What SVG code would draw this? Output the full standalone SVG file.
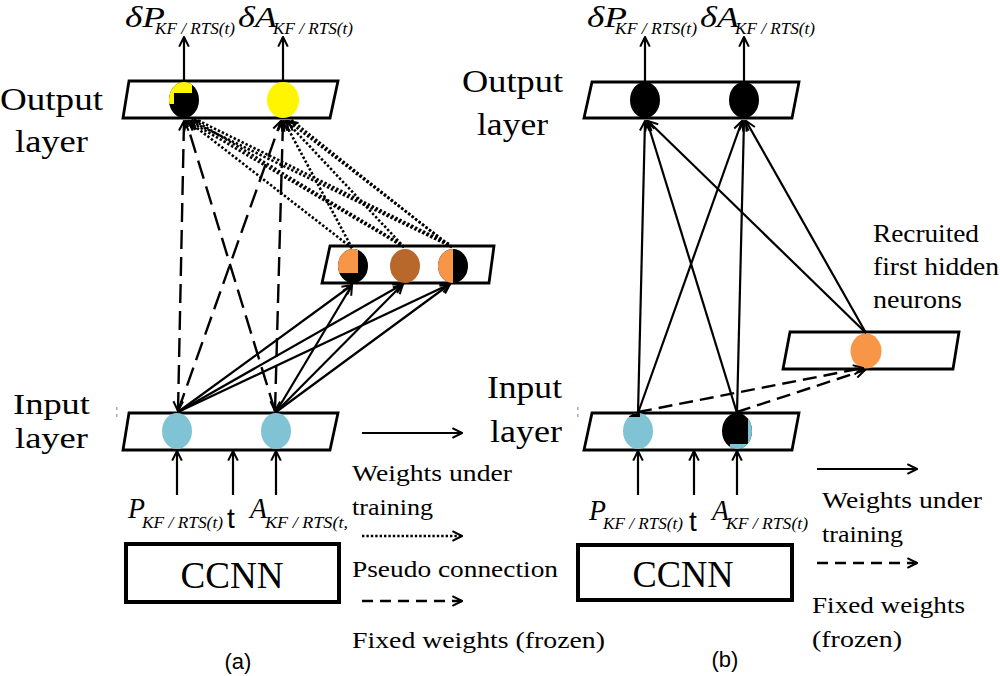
<svg xmlns="http://www.w3.org/2000/svg" width="1000" height="676" viewBox="0 0 1000 676" font-family="Liberation Serif, Times New Roman, serif">
<style>
.lay{fill:#fff;stroke:#000;stroke-width:2.8}
.box{fill:#fff;stroke:#000;stroke-width:4}
.serif{fill:#000}
.it{font-style:italic}
.sans{fill:#000}
.lbl{font-size:31px}
.leg{font-size:23px}
.main{font-size:29px}
.sub{font-size:17px}
.ln{stroke:#000;stroke-width:2.2;fill:none}
.dash{stroke-dasharray:19 8;stroke-width:2.4}
.dashb{stroke-dasharray:14 7;stroke-width:2.4}
.dashl{stroke-dasharray:11 7;stroke-width:2.6}
.dot{stroke-dasharray:2.4 2;stroke-width:2.6}
.blue{fill:#7FC3D5}
.yel{fill:#FFF500}
.org{fill:#F79646}
.brn{fill:#B8682A}
.blk{fill:#000}
</style>
<defs>
<marker id="ah" viewBox="0 0 10 10" refX="9" refY="5" markerWidth="12" markerHeight="12" markerUnits="userSpaceOnUse" orient="auto-start-reverse">
<path d="M1,1 L9,5 L1,9" fill="none" stroke="#000" stroke-width="1.7"/>
</marker>
<clipPath id="c_ao1"><ellipse cx="184" cy="100" rx="15" ry="18"/></clipPath>
<clipPath id="c_ah1"><ellipse cx="353" cy="266" rx="15" ry="17"/></clipPath>
<clipPath id="c_ah3"><ellipse cx="453" cy="266" rx="15" ry="17"/></clipPath>
<clipPath id="c_bi1"><ellipse cx="638" cy="431" rx="15" ry="18"/></clipPath>
<clipPath id="c_bi2"><ellipse cx="737" cy="431" rx="15" ry="18"/></clipPath>
</defs>
<rect width="1000" height="676" fill="#fff"/>

<!-- ===== Panel (a) ===== -->
<g id="a-output-layer">
<polygon class="lay" points="129,81 338,81 330,118 123,118"/>
<g clip-path="url(#c_ao1)">
<rect class="blk" x="168" y="81" width="32" height="38"/>
<path class="yel" d="M168,81 H192 V93 H174 V104 H168 Z"/>
</g>
<ellipse class="yel" cx="283" cy="100" rx="16" ry="18"/>
</g>
<g id="a-hidden-layer">
<polygon class="lay" points="330,246 494,246 489,283 322,283"/>
<g clip-path="url(#c_ah1)">
<rect class="blk" x="337" y="248" width="32" height="36"/>
<rect class="org" x="337" y="248" width="21" height="25"/>
</g>
<ellipse class="brn" cx="405" cy="266" rx="15" ry="17"/>
<g clip-path="url(#c_ah3)">
<rect class="blk" x="437" y="248" width="32" height="36"/>
<rect class="org" x="437" y="248" width="16" height="36"/>
</g>
</g>
<g id="a-input-layer">
<polygon class="lay" points="129,413 338,413 330,450 123,450"/>
<ellipse class="blue" cx="177" cy="431" rx="15" ry="18"/>
<ellipse class="blue" cx="276" cy="431" rx="15" ry="18"/>
</g>
<g id="a-ccnn">
<rect class="box" x="126" y="544" width="213" height="58"/>
<text class="serif" x="232" y="588" font-size="38" text-anchor="middle" textLength="103" lengthAdjust="spacingAndGlyphs">CCNN</text>
</g>

<g id="a-connectors">
<line class="ln" x1="184" y1="81" x2="184" y2="37" marker-end="url(#ah)"/>
<line class="ln" x1="283" y1="81" x2="283" y2="37" marker-end="url(#ah)"/>
<line class="ln" x1="177" y1="495" x2="177" y2="451" marker-end="url(#ah)"/>
<line class="ln" x1="233" y1="495" x2="233" y2="451" marker-end="url(#ah)"/>
<line class="ln" x1="276" y1="495" x2="276" y2="451" marker-end="url(#ah)"/>
<!-- fixed weights -->
<line class="ln dash" x1="178" y1="411" x2="184" y2="121" marker-start="url(#ah)" marker-end="url(#ah)"/>
<line class="ln dash" x1="178" y1="411" x2="281" y2="121" marker-end="url(#ah)"/>
<line class="ln dash" x1="275" y1="411" x2="186" y2="121" marker-end="url(#ah)"/>
<line class="ln dash" x1="275" y1="411" x2="283" y2="121" marker-start="url(#ah)" marker-end="url(#ah)"/>
<!-- pseudo connections -->
<line class="ln dot" x1="352" y1="248" x2="188" y2="121" marker-end="url(#ah)"/>
<line class="ln dot" x1="404" y1="247" x2="189" y2="121" marker-end="url(#ah)"/>
<line class="ln dot" x1="401" y1="244" x2="192" y2="119"/>
<line class="ln dot" x1="452" y1="247" x2="190" y2="121" marker-end="url(#ah)"/>
<line class="ln dot" x1="449" y1="244" x2="193" y2="118"/>
<line class="ln dot" x1="352" y1="248" x2="284" y2="121" marker-end="url(#ah)"/>
<line class="ln dot" x1="404" y1="247" x2="286" y2="121" marker-end="url(#ah)"/>
<line class="ln dot" x1="452" y1="247" x2="288" y2="121" marker-end="url(#ah)"/>
<line class="ln dot" x1="448" y1="245" x2="290" y2="119"/>
<!-- weights under training -->
<line class="ln" x1="178" y1="412" x2="352" y2="285" marker-end="url(#ah)"/>
<line class="ln" x1="178" y1="412" x2="403" y2="284" marker-end="url(#ah)"/>
<line class="ln" x1="178" y1="412" x2="450" y2="284" marker-end="url(#ah)"/>
<line class="ln" x1="276" y1="412" x2="352" y2="285" marker-end="url(#ah)"/>
<line class="ln" x1="276" y1="412" x2="403" y2="284" marker-end="url(#ah)"/>
<line class="ln" x1="276" y1="412" x2="450" y2="284" marker-end="url(#ah)"/>
</g>

<g id="a-labels">
<text class="serif lbl" x="0" y="110" textLength="103" lengthAdjust="spacingAndGlyphs">Output</text>
<text class="serif lbl" x="15" y="152" textLength="73" lengthAdjust="spacingAndGlyphs">layer</text>
<text class="serif" font-size="29" x="13" y="414" textLength="77" lengthAdjust="spacingAndGlyphs">Input</text>
<text class="serif" font-size="29" x="15" y="448" textLength="73" lengthAdjust="spacingAndGlyphs">layer</text>
<text class="serif it main" x="125" y="27" textLength="40" lengthAdjust="spacingAndGlyphs">δP</text>
<text class="serif it sub" x="155" y="34" textLength="80" lengthAdjust="spacingAndGlyphs">KF / RTS(t)</text>
<text class="serif it main" x="238" y="27" textLength="39" lengthAdjust="spacingAndGlyphs">δA</text>
<text class="serif it sub" x="273" y="34" textLength="80" lengthAdjust="spacingAndGlyphs">KF / RTS(t)</text>
<text class="serif it" font-size="29" x="128" y="518" textLength="17" lengthAdjust="spacingAndGlyphs">P</text>
<text class="serif it sub" x="142" y="528" textLength="81" lengthAdjust="spacingAndGlyphs">KF / RTS(t)</text>
<text class="sans" font-family="Liberation Sans, Arial, sans-serif" font-size="28" x="227" y="528">t</text>
<text class="serif it" font-size="29" x="250" y="518" textLength="17" lengthAdjust="spacingAndGlyphs">A</text>
<text class="serif it sub" x="265" y="528" textLength="83" lengthAdjust="spacingAndGlyphs">KF / RTS(t,</text>
<text class="sans" font-family="Liberation Sans, Arial, sans-serif" font-size="22" x="238" y="669" text-anchor="middle">(a)</text>
</g>
<g id="a-legend">
<line class="ln" x1="362" y1="433" x2="462" y2="433" marker-end="url(#ah)"/>
<text class="serif leg" x="352" y="481" textLength="160" lengthAdjust="spacingAndGlyphs">Weights under</text>
<text class="serif leg" x="352" y="515" textLength="81" lengthAdjust="spacingAndGlyphs">training</text>
<line class="ln dot" x1="362" y1="536" x2="462" y2="536" marker-end="url(#ah)"/>
<text class="serif leg" x="352" y="577" textLength="206" lengthAdjust="spacingAndGlyphs">Pseudo connection</text>
<line class="ln dashl" x1="362" y1="601" x2="462" y2="601" marker-end="url(#ah)"/>
<text class="serif leg" x="352" y="648" textLength="253" lengthAdjust="spacingAndGlyphs">Fixed weights (frozen)</text>
</g>
<rect x="116" y="407" width="1.5" height="3" fill="#aaa"/>
<rect x="116" y="414" width="1.5" height="3" fill="#aaa"/>

<!-- ===== Panel (b) ===== -->
<g id="b-output-layer">
<polygon class="lay" points="592,82 799,82 792,118 584,118"/>
<ellipse class="blk" cx="645" cy="100" rx="15" ry="18"/>
<ellipse class="blk" cx="744" cy="100" rx="15" ry="18"/>
</g>
<g id="b-hidden-layer">
<polygon class="lay" points="790,332 959,332 953,369 783,369"/>
<ellipse class="org" cx="866" cy="351" rx="15.5" ry="17.5"/>
</g>
<g id="b-input-layer">
<polygon class="lay" points="592,413 799,413 792,450 584,450"/>
<g clip-path="url(#c_bi1)">
<rect class="blue" x="622" y="412" width="32" height="38"/>
<rect class="blk" x="622" y="412" width="18" height="5"/>
</g>
<g clip-path="url(#c_bi2)">
<rect class="blk" x="721" y="412" width="32" height="38"/>
<rect class="blue" x="748" y="412" width="6" height="38"/>
<rect class="blue" x="730" y="444" width="24" height="6"/>
</g>
</g>
<g id="b-ccnn">
<rect class="box" x="578" y="545" width="214" height="55"/>
<text class="serif" x="683" y="587" font-size="38" text-anchor="middle" textLength="101" lengthAdjust="spacingAndGlyphs">CCNN</text>
</g>

<g id="b-connectors">
<line class="ln" x1="645" y1="82" x2="645" y2="37" marker-end="url(#ah)"/>
<line class="ln" x1="744" y1="82" x2="744" y2="37" marker-end="url(#ah)"/>
<line class="ln" x1="638" y1="495" x2="638" y2="451" marker-end="url(#ah)"/>
<line class="ln" x1="694" y1="495" x2="694" y2="451" marker-end="url(#ah)"/>
<line class="ln" x1="737" y1="495" x2="737" y2="451" marker-end="url(#ah)"/>
<line class="ln" x1="638" y1="413" x2="645" y2="121" marker-end="url(#ah)"/>
<line class="ln" x1="638" y1="413" x2="742" y2="121" marker-end="url(#ah)"/>
<line class="ln" x1="737" y1="413" x2="647" y2="121" marker-end="url(#ah)"/>
<line class="ln" x1="737" y1="413" x2="744" y2="121" marker-end="url(#ah)"/>
<line class="ln" x1="866" y1="333" x2="648" y2="121" marker-end="url(#ah)"/>
<line class="ln" x1="866" y1="333" x2="746" y2="121" marker-end="url(#ah)"/>
<line class="ln dashb" x1="638" y1="412" x2="863" y2="368" marker-end="url(#ah)"/>
<line class="ln dashb" x1="737" y1="412" x2="865" y2="370" marker-end="url(#ah)"/>
</g>

<g id="b-labels">
<text class="serif lbl" x="462" y="92" textLength="101" lengthAdjust="spacingAndGlyphs">Output</text>
<text class="serif lbl" x="477" y="135" textLength="71" lengthAdjust="spacingAndGlyphs">layer</text>
<text class="serif lbl" x="487" y="398" textLength="75" lengthAdjust="spacingAndGlyphs">Input</text>
<text class="serif lbl" x="490" y="442" textLength="72" lengthAdjust="spacingAndGlyphs">layer</text>
<text class="serif it main" x="587" y="27" textLength="40" lengthAdjust="spacingAndGlyphs">δP</text>
<text class="serif it sub" x="615" y="34" textLength="82" lengthAdjust="spacingAndGlyphs">KF / RTS(t)</text>
<text class="serif it main" x="700" y="27" textLength="39" lengthAdjust="spacingAndGlyphs">δA</text>
<text class="serif it sub" x="735" y="34" textLength="80" lengthAdjust="spacingAndGlyphs">KF / RTS(t)</text>
<text class="serif it" font-size="29" x="589" y="520" textLength="17" lengthAdjust="spacingAndGlyphs">P</text>
<text class="serif it sub" x="603" y="529" textLength="80" lengthAdjust="spacingAndGlyphs">KF / RTS(t)</text>
<text class="sans" font-family="Liberation Sans, Arial, sans-serif" font-size="28" x="689" y="531">t</text>
<text class="serif it" font-size="29" x="712" y="520" textLength="17" lengthAdjust="spacingAndGlyphs">A</text>
<text class="serif it sub" x="726" y="529" textLength="82" lengthAdjust="spacingAndGlyphs">KF / RTS(t)</text>
<text class="serif" font-size="25" x="873" y="242" textLength="106" lengthAdjust="spacingAndGlyphs">Recruited</text>
<text class="serif" font-size="25" x="873" y="275" textLength="126" lengthAdjust="spacingAndGlyphs">first hidden</text>
<text class="serif" font-size="25" x="873" y="308" textLength="89" lengthAdjust="spacingAndGlyphs">neurons</text>
<text class="sans" font-family="Liberation Sans, Arial, sans-serif" font-size="22" x="725" y="667" text-anchor="middle">(b)</text>
</g>
<g id="b-legend">
<line class="ln" x1="817" y1="469" x2="917" y2="469" marker-end="url(#ah)"/>
<text class="serif leg" x="822" y="508" textLength="160" lengthAdjust="spacingAndGlyphs">Weights under</text>
<text class="serif leg" x="822" y="542" textLength="81" lengthAdjust="spacingAndGlyphs">training</text>
<line class="ln dashl" x1="817" y1="563" x2="917" y2="563" marker-end="url(#ah)"/>
<text class="serif leg" x="812" y="613" textLength="153" lengthAdjust="spacingAndGlyphs">Fixed weights</text>
<text class="serif leg" x="812" y="647" textLength="90" lengthAdjust="spacingAndGlyphs">(frozen)</text>
</g>
<rect x="577" y="407" width="1.5" height="3" fill="#aaa"/>
<rect x="577" y="414" width="1.5" height="3" fill="#aaa"/>
</svg>
